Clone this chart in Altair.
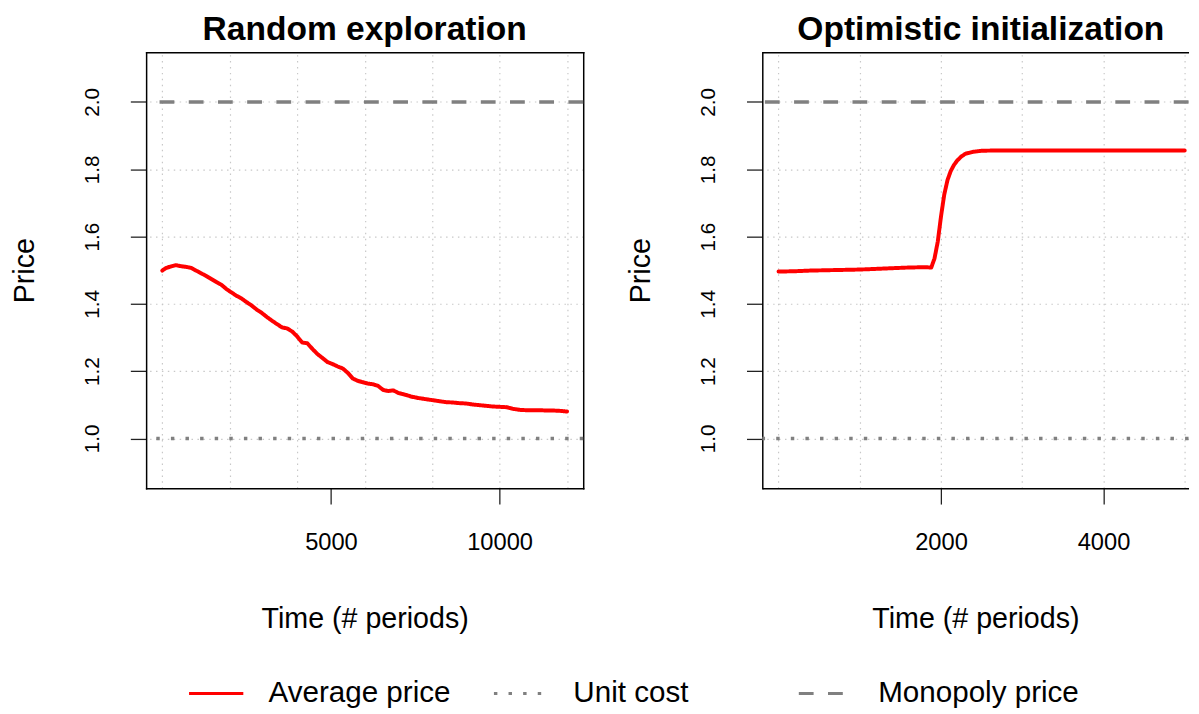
import altair as alt
import pandas as pd

FONT = "Liberation Sans"

# ---------------- data ----------------
left_t = [0, 100, 250, 400, 550, 700, 850, 1000, 1150, 1300, 1450, 1600, 1750, 1900,
          2050, 2200, 2350, 2500, 2650, 2800, 2950, 3100, 3250, 3400, 3550, 3700, 3850,
          4000, 4150, 4300, 4450, 4600, 4750, 4900, 5050, 5200, 5350, 5500, 5650, 5800,
          5950, 6100, 6250, 6400, 6550, 6700, 6850, 7000, 7200, 7400, 7600, 7800, 8000,
          8200, 8400, 8600, 8800, 9000, 9200, 9400, 9600, 9800, 10000, 10200, 10400,
          10600, 10800, 11000, 11200, 11400, 11600, 11800, 12000]
left_price = [1.499, 1.506, 1.511, 1.515, 1.512, 1.510, 1.507, 1.499, 1.491, 1.483,
              1.474, 1.465, 1.457, 1.444, 1.434, 1.424, 1.416, 1.405, 1.395, 1.383,
              1.373, 1.361, 1.350, 1.340, 1.330, 1.327, 1.318, 1.303, 1.285, 1.283,
              1.266, 1.251, 1.239, 1.227, 1.221, 1.214, 1.208, 1.195, 1.178, 1.171,
              1.167, 1.163, 1.161, 1.156, 1.144, 1.141, 1.143, 1.135, 1.130, 1.124,
              1.120, 1.117, 1.114, 1.111, 1.108, 1.107, 1.105, 1.104, 1.101, 1.099,
              1.097, 1.095, 1.094, 1.093, 1.088, 1.085, 1.084, 1.084, 1.084, 1.083,
              1.083, 1.082, 1.080]

right_t = [0, 200, 400, 600, 800, 1000, 1200, 1400, 1600, 1800, 1880, 1920, 1960, 2000,
           2040, 2080, 2120, 2160, 2200, 2250, 2300, 2400, 2500, 2700, 3000, 3500, 4000,
           4500, 5000]
right_price = [1.496, 1.497, 1.499, 1.500, 1.501, 1.502, 1.504, 1.506, 1.508, 1.509,
               1.508, 1.535, 1.585, 1.660, 1.725, 1.768, 1.795, 1.813, 1.826, 1.838,
               1.846, 1.852, 1.855, 1.856, 1.856, 1.856, 1.856, 1.856, 1.856]

series_names = ["Average price", "Unit cost", "Monopoly price"]
series_colors = ["#ff0000", "#808080", "#808080"]
series_dash = [[1, 0], [3.5, 11.3], [15, 14.6]]
ref_names = ["Unit cost", "Monopoly price"]
ref_values = [1.0, 2.0]

y_ticks = [1.0, 1.2, 1.4, 1.6, 1.8, 2.0]
left_xticks = [5000, 10000]
left_xgrid = [0, 2000, 4000, 6000, 8000, 10000, 12000]
right_xticks = [2000, 4000]
right_xgrid = [0, 1000, 2000, 3000, 4000, 5000]
panel_titles = ["Random exploration", "Optimistic initialization"]
x_title = "Time (# periods)"
y_title = "Price"

# ---------------- layout ----------------
PLOT_H = 442
LEFT_W = 443
RIGHT_W = 432
y_domain = [0.852, 2.148]
left_xdomain = [-480, 12480]
right_xdomain = [-200, 5047]

color_scale = alt.Scale(domain=series_names, range=series_colors)
dash_scale = alt.Scale(domain=series_names, range=series_dash)
y_scale = alt.Scale(domain=y_domain, nice=False, zero=False)

legend = alt.Legend(
    title=None, orient="none", legendX=42, legendY=621, direction="horizontal",
    columns=3, gridAlign="all", symbolType="stroke", symbolSize=3025,
    symbolStrokeWidth=3, labelFont=FONT, labelFontSize=30, labelColor="black",
    labelOffset=24, columnPadding=18, padding=0, labelLimit=400,
)


def panel(t, p, xdomain, xticks, xgrid, width, title_params, right_border, cap):
    df = pd.DataFrame({"t": t, "price": p, "series": [series_names[0]] * len(t)})
    ref = pd.DataFrame({"price": ref_values, "series": ref_names})
    xs = alt.Scale(domain=xdomain, nice=False, zero=False)

    x_main = alt.Axis(
        orient="bottom", values=xticks, grid=False, format="d",
        domain=True, domainColor="black", domainWidth=1.5, domainCap=cap,
        ticks=True, tickSize=16, tickWidth=1.3, tickColor="#222222",
        labelFont=FONT, labelFontSize=24, labelColor="black",
        labelPadding=46, labelBaseline="alphabetic", labelFlush=False,
        labelOverlap=False,
        title=x_title, titleFont=FONT, titleFontSize=29, titleFontWeight="normal",
        titleColor="black", titleX=width / 2, titleY=141, titleBaseline="alphabetic",
        titleAlign="center",
    )
    y_main = alt.Axis(
        orient="left", values=y_ticks, grid=False, format=".1f",
        domain=True, domainColor="black", domainWidth=1.5, domainCap="square",
        ticks=True, tickSize=16, tickWidth=1.3, tickColor="#222222",
        labelFont=FONT, labelFontSize=21, labelColor="black", labelAngle=270,
        labelAlign="center", labelBaseline="alphabetic", labelPadding=32,
        labelFlush=False, labelOverlap=False,
        title=y_title, titleFont=FONT, titleFontSize=29, titleFontWeight="normal",
        titleColor="black", titleAngle=270, titleX=-114, titleY=PLOT_H / 2,
        titleBaseline="alphabetic", titleAlign="center",
    )
    x_grid = alt.Axis(
        orient="top", values=xgrid, grid=True, gridColor="#c8c8c8",
        gridDash=[1.5, 4.5], gridWidth=1.2, labels=False, ticks=False,
        domain=True, domainColor="black", domainWidth=1.5, domainCap=cap,
        title=None, minExtent=0, maxExtent=0,
    )
    y_grid = alt.Axis(
        orient="right", values=y_ticks, grid=True, gridColor="#c8c8c8",
        gridDash=[1.5, 4.5], gridWidth=1.2, labels=False, ticks=False,
        domain=right_border, domainColor="black", domainWidth=1.5,
        domainCap="square", title=None, minExtent=0, maxExtent=0,
    )

    color = alt.Color("series:N", scale=color_scale, legend=legend)
    dash = alt.StrokeDash("series:N", scale=dash_scale, legend=legend)

    grid_layer = alt.Chart(df).mark_line(opacity=0).encode(
        x=alt.X("t:Q", scale=xs, axis=x_grid),
        y=alt.Y("price:Q", scale=y_scale, axis=y_grid),
    )
    rules = alt.Chart(ref).mark_rule(strokeWidth=3.7, strokeCap="butt").encode(
        y=alt.Y("price:Q", scale=y_scale, axis=None),
        color=color,
        strokeDash=dash,
    )
    line = alt.Chart(df).mark_line(strokeWidth=4, strokeJoin="round",
                                   strokeCap="round").encode(
        x=alt.X("t:Q", scale=xs, axis=x_main),
        y=alt.Y("price:Q", scale=y_scale, axis=y_main),
        color=color,
        strokeDash=dash,
    )
    return alt.layer(grid_layer, rules, line).properties(
        width=width, height=PLOT_H, title=title_params,
    )


left_title = alt.TitleParams(
    text=panel_titles[0], font=FONT, fontSize=34, fontWeight="bold", color="black",
    anchor="middle", offset=5,
)
right_title = alt.TitleParams(
    text=panel_titles[1], font=FONT, fontSize=34, fontWeight="bold", color="black",
    anchor="middle", offset=5, dx=5.5,
)

left = panel(left_t, left_price, left_xdomain, left_xticks, left_xgrid, LEFT_W,
             left_title, True, "square")
right = panel(right_t, right_price, right_xdomain, right_xticks, right_xgrid, RIGHT_W,
              right_title, False, "butt")

chart = alt.hconcat(left, right, spacing=40.5).properties(
    padding={"left": 2, "top": 0, "right": 0, "bottom": 0},
    background="white",
).configure_view(stroke="transparent")

chart.save("out.html", embed_options={"renderer": "svg", "actions": False})
